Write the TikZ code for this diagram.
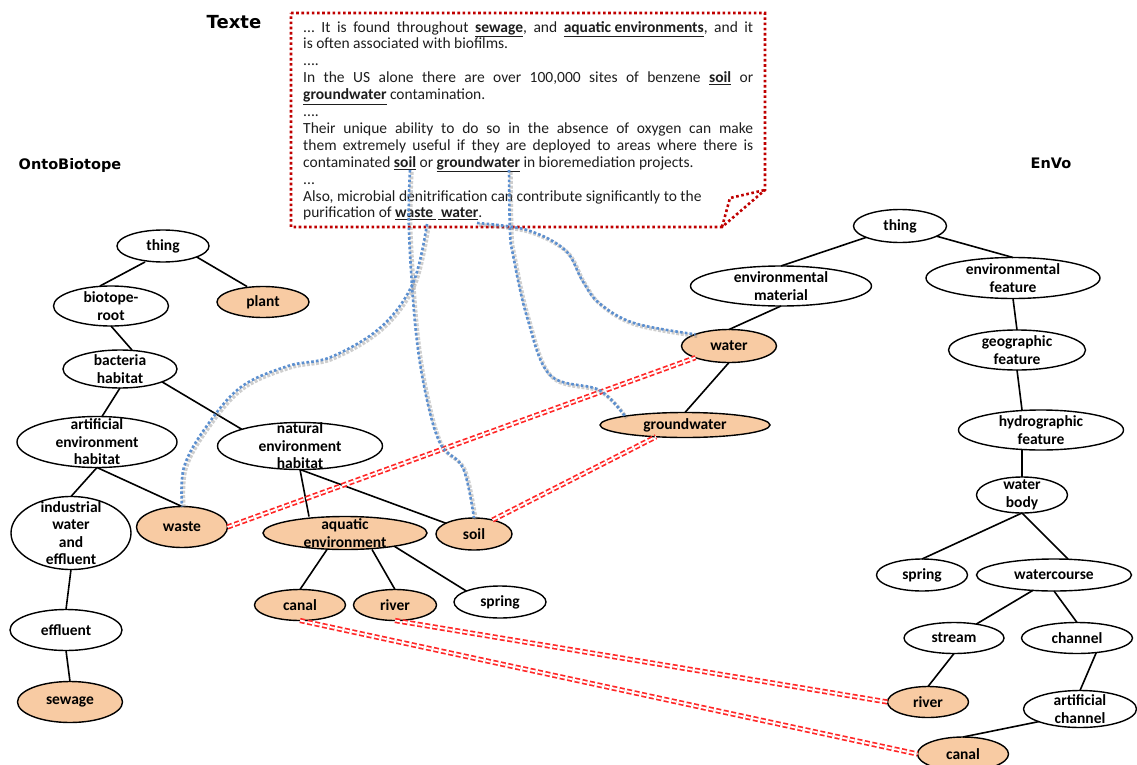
\documentclass[tikz,border=0pt]{standalone}
\usepackage{fontspec}
\setmainfont{Carlito}
\newfontfamily\hdrfont{DejaVu Sans}
\usetikzlibrary{shapes.geometric}
\definecolor{peach}{HTML}{F8CBA3}
\definecolor{bluel}{HTML}{5B8FD0}
\definecolor{boxred}{HTML}{C00000}
\definecolor{lred}{HTML}{FF2626}
\definecolor{txt}{HTML}{1E1E1E}
\newcommand\U[1]{\underline{\textbf{#1}}}
\newcommand\EN[7]{%
  \node[ell,fill=#6,minimum width=#4pt,minimum height=#5pt] (#1) at (#2,#3) {};
  \node[lbl] (#1-t) at (#1.center) {#7};}
\frenchspacing
\begin{document}
\begin{tikzpicture}[x=1pt,y=-1pt,
  ell/.style={ellipse,draw=black,line width=1.4pt,inner sep=0pt,outer sep=0pt},
  lbl/.style={align=center,inner sep=0pt,text=black,font=\bfseries\fontsize{15.5}{17.5}\selectfont},
  edge/.style={draw=black,line width=1.6pt},
  hdr/.style={inner sep=0pt,font=\hdrfont\bfseries\fontsize{14.5}{16}\selectfont},
  bluedot/.style={draw=bluel,line width=2.6pt,dash pattern=on 2.6pt off 2.2pt},
  blueshadow/.style={draw=black!55,opacity=0.35,line width=3.8pt,dash pattern=on 3pt off 1.6pt,transform canvas={shift={(1.8,1.8)}}},
  boxdot/.style={draw=boxred,line width=2.6pt,dash pattern=on 2.6pt off 2.6pt},
  reddbl/.style={draw=lred,double=white,double distance=1.8pt,line width=1.7pt,dash pattern=on 5pt off 2.6pt}]
\useasboundingbox (0,0) rectangle (1137,765);
\fill[white] (0,0) rectangle (1137,765);

% headers
\node[hdr,font=\hdrfont\bfseries\fontsize{18}{20}\selectfont] (texte) at (234,22) {Texte};
\node[hdr] (onto) at (70,165) {OntoBiotope};
\node[hdr] (envo) at (1051,163) {EnVo};

% text box
\draw[boxdot] (291,13) -- (765,13) -- (765,190) -- (722,227) -- (291,227) -- cycle;
\draw[boxdot] (722,227) -- (730,198) -- (765,190);
\node[anchor=north west,inner sep=0pt,text width=450pt,align=justify,text=txt,
      font=\fontsize{15.5}{16.9}\selectfont\frenchspacing] (passage) at (303,21) {%
... It is found throughout \U{sewage}, and \U{aquatic environments}, and it\linebreak
is often associated with biofilms.\\
....\\
In the US alone there are over 100,000 sites of benzene \U{soil} or\linebreak
\U{groundwater} contamination.\\
....\\
Their unique ability to do so in the absence of oxygen can make\linebreak
them extremely useful if they are deployed to areas where there is\linebreak
contaminated \U{soil} or \U{groundwater} in bioremediation projects.\\
...\\
Also, microbial denitrification can contribute significantly to the\\
purification of \underline{\textbf{waste}\,}\,\underline{\,\textbf{water}}.};

% left tree (OntoBiotope)
\EN{lthing}{163}{246}{92}{32}{white}{thing}
\EN{plant}{263}{302}{92}{31}{peach}{plant}
\EN{biot}{111}{306}{115}{40}{white}{biotope-\\root}
\EN{bact}{120}{369}{114}{38}{white}{bacteria\\habitat}
\EN{art}{97}{442}{160}{51}{white}{artificial\\environment\\habitat}
\EN{nat}{300}{446}{165}{47}{white}{natural\\environment\\habitat}
\EN{ind}{71}{533}{120}{73}{white}{industrial\\water\\and\\effluent}
\EN{waste}{182}{527}{91}{41}{peach}{waste}
\EN{effl}{66}{630}{112}{41}{white}{effluent}
\EN{sew}{70}{702}{105}{41}{peach}{sewage}
\EN{aqua}{345}{533}{164}{33}{peach}{aquatic\\environment}
\EN{soil}{474}{534}{76}{32}{peach}{soil}
\EN{canalL}{300}{605}{91}{31}{peach}{canal}
\EN{riverL}{395}{605}{83}{31}{peach}{river}
\EN{springL}{500}{602}{92}{32}{white}{spring}

% right tree (EnVo)
\EN{rthing}{900}{226}{93}{33}{white}{thing}
\EN{envmat}{781}{286}{181}{40}{white}{environmental\\material}
\EN{water}{729}{346}{95}{33}{peach}{water}
\EN{gw}{685}{425}{170}{25}{peach}{groundwater}
\EN{envfeat}{1013}{278}{174}{41}{white}{environmental\\feature}
\EN{geo}{1017}{350}{137}{40}{white}{geographic\\feature}
\EN{hydro}{1041}{430}{165}{40}{white}{hydrographic\\feature}
\EN{wb}{1022}{495}{91}{36}{white}{water\\body}
\EN{springR}{922}{575}{91}{32}{white}{spring}
\EN{wc}{1054}{575}{155}{32}{white}{watercourse}
\EN{stream}{954}{638}{100}{31}{white}{stream}
\EN{chan}{1077}{638}{111}{31}{white}{channel}
\EN{riverR}{928}{702}{81}{31}{peach}{river}
\EN{artch}{1080}{709}{113}{37}{white}{artificial\\channel}
\EN{canalR}{963}{754}{91}{34}{peach}{canal}

% left edges
\draw[edge] ([xshift=-18pt]lthing.south) -- ([xshift=-11pt]biot.north);
\draw[edge] (lthing.-18) -- ([xshift=-16pt]plant.north);
\draw[edge] (biot.south) -- ([xshift=12pt]bact.north);
\draw[edge] (bact.south) -- ([xshift=5pt]art.north);
\draw[edge] (bact.-17) -- (nat.164);
\draw[edge] (art.south) -- (ind.north);
\draw[edge] (art.south) -- (waste.north);
\draw[edge] (ind.south) -- (effl.north);
\draw[edge] (effl.south) -- (sew.north);
\draw[edge] (nat.south) -- ([xshift=-36pt]aqua.north);
\draw[edge] (nat.south) -- (soil.159);
\draw[edge] ([xshift=-18pt]aqua.south) -- (canalL.north);
\draw[edge] ([xshift=27pt]aqua.south) -- (riverL.north);
\draw[edge] (aqua.-15) -- (springL.162);

% right edges
\draw[edge] (rthing) -- (envmat.north);
\draw[edge] (rthing) -- (envfeat.north);
\draw[edge] (envmat.south) -- (water.north);
\draw[edge] (water.south) -- (gw.north);
\draw[edge] (envfeat.south) -- (geo.north);
\draw[edge] (geo.south) -- ([xshift=-19pt]hydro.north);
\draw[edge] (wb.north) -- ([xshift=-19pt]hydro.south);
\draw[edge] (wb.south) -- (springR.north);
\draw[edge] (wb.south) -- (wc.48);
\draw[edge] (wc.216) -- (stream.32);
\draw[edge] (wc.south) -- (chan.north);
\draw[edge] (stream.south) -- (riverR.north);
\draw[edge] (chan.-37) -- (artch.north);
\draw[edge] (artch.197) -- (canalR.north);

% alignments (red double dashed)
\draw[reddbl] (waste.east) -- (water.south west);
\draw[reddbl] (soil.37) -- (gw.202);
\draw[reddbl] (canalL.south) -- (canalR.west);
\draw[reddbl] (riverL.south) -- (riverR.west);

% word anchors in the passage
\coordinate (wSoil) at (410,170);
\coordinate (wGw) at (509,170);
\coordinate (wWaste) at (427,224);
\coordinate (wWater) at (477,223);

% annotations (blue dotted)
\foreach \s in {blueshadow,bluedot}{
\draw[\s] plot[smooth,tension=0.6] coordinates {(wWaste) (413,283) (381,327) (331,357) (288,366) (241,387) (206,427) (184,467) (waste.north)};
\draw[\s] plot[smooth,tension=0.6] coordinates {(wSoil) (409,232) (416,333) (427,400) (441,445) (463,468) (soil.north)};
\draw[\s] plot[smooth,tension=0.6] coordinates {(wGw) (510,232) (513,255) (527,317) (550,375) (599,390) (gw.north west)};
\draw[\s] plot[smooth,tension=0.6] coordinates {(wWater) (527,230) (565,250) (582,280) (599,303) (634,323) (water.north west)};
}
\end{tikzpicture}
\end{document}
